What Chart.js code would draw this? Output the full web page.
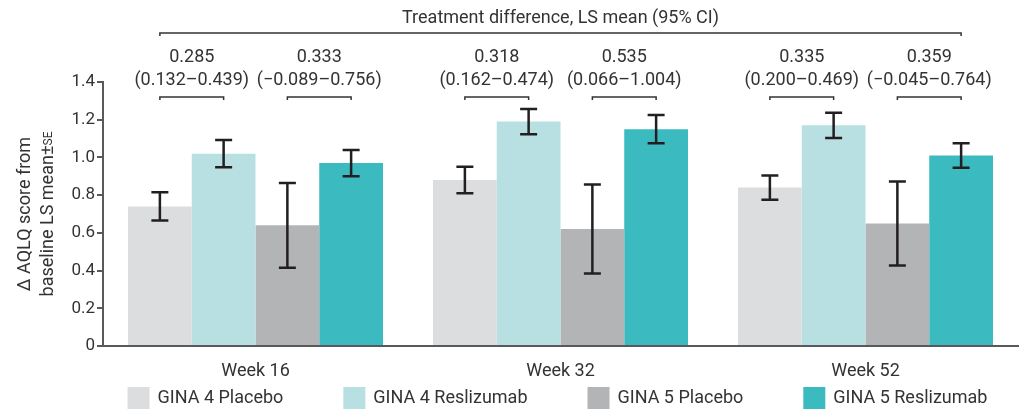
<!DOCTYPE html>
<html>
<head>
<meta charset="utf-8">
<script src="https://cdn.jsdelivr.net/npm/chart.js@4"></script>
<style>
  body { margin: 0; background: #fff; }
  canvas { display: block; }
</style>
</head>
<body>
<canvas id="chart" width="1024" height="410"></canvas>
<script>
const weeks = ["Week 16", "Week 32", "Week 52"];
const seriesNames = ["GINA 4 Placebo", "GINA 4 Reslizumab", "GINA 5 Placebo", "GINA 5 Reslizumab"];
const seriesColors = ["#dcdddf", "#b8dfe1", "#b3b4b6", "#3bbbc0"];

const gina4Placebo = [0.74, 0.88, 0.84];
const gina4Reslizumab = [1.02, 1.19, 1.17];
const gina5Placebo = [0.64, 0.62, 0.65];
const gina5Reslizumab = [0.97, 1.15, 1.01];

const gina4PlaceboSE = [0.075, 0.07, 0.064];
const gina4ReslizumabSE = [0.072, 0.067, 0.067];
const gina5PlaceboSE = [0.225, 0.236, 0.223];
const gina5ReslizumabSE = [0.07, 0.075, 0.065];

const yTicks = [0, 0.2, 0.4, 0.6, 0.8, 1.0, 1.2, 1.4];

// treatment differences, one per (week, GINA group) pair
const diffMeans = ["0.285", "0.333", "0.318", "0.535", "0.335", "0.359"];
const diffCIs = ["(0.132\u20130.439)", "(\u22120.089\u20130.756)", "(0.162\u20130.474)",
                 "(0.066\u20131.004)", "(0.200\u20130.469)", "(\u22120.045\u20130.764)"];

const seriesValues = [gina4Placebo, gina4Reslizumab, gina5Placebo, gina5Reslizumab];
const seriesSE = [gina4PlaceboSE, gina4ReslizumabSE, gina5PlaceboSE, gina5ReslizumabSE];

const FONT = "Roboto, 'DejaVu Sans', sans-serif";
const TEXT = "#333333";

const errorBars = {
    id: "errorBars",
    afterDatasetsDraw(chart) {
        const ctx = chart.ctx;
        const y = chart.scales.y;
        ctx.save();
        ctx.strokeStyle = "#231f20";
        ctx.lineWidth = 2.5;
        seriesValues.forEach((vals, i) => {
            const meta = chart.getDatasetMeta(i);
            vals.forEach((v, j) => {
                const x = meta.data[j].x;
                const top = y.getPixelForValue(v + seriesSE[i][j]);
                const bot = y.getPixelForValue(v - seriesSE[i][j]);
                ctx.beginPath();
                ctx.moveTo(x, top); ctx.lineTo(x, bot);
                ctx.moveTo(x - 8.5, top); ctx.lineTo(x + 8.5, top);
                ctx.moveTo(x - 8.5, bot); ctx.lineTo(x + 8.5, bot);
                ctx.stroke();
            });
        });
        ctx.restore();
    }
};

const annotations = {
    id: "annotations",
    afterDraw(chart) {
        const ctx = chart.ctx;
        const m = [0, 1, 2, 3].map(i => chart.getDatasetMeta(i));
        ctx.save();
        ctx.fillStyle = TEXT;
        ctx.strokeStyle = TEXT;
        ctx.lineWidth = 1.5;
        ctx.font = "18px " + FONT;
        ctx.textAlign = "center";
        ctx.textBaseline = "middle";

        // overall bracket
        const x0 = m[0].data[0].x, x1 = m[3].data[2].x;
        ctx.fillText("Treatment difference, LS mean (95% CI)", (x0 + x1) / 2, 18);
        ctx.beginPath();
        ctx.moveTo(x0, 36); ctx.lineTo(x0, 33); ctx.lineTo(x1, 33); ctx.lineTo(x1, 36);
        ctx.stroke();

        // pair brackets
        let k = 0;
        weeks.forEach((w, j) => {
            [[0, 1], [2, 3]].forEach(([a, b]) => {
                const xa = m[a].data[j].x, xb = m[b].data[j].x;
                const cx = (xa + xb) / 2;
                ctx.fillText(diffMeans[k], cx, 57);
                ctx.fillText(diffCIs[k], cx, 80);
                ctx.beginPath();
                ctx.moveTo(xa, 100); ctx.lineTo(xa, 97); ctx.lineTo(xb, 97); ctx.lineTo(xb, 100);
                ctx.stroke();
                k++;
            });
        });

        // y axis title
        const area = chart.chartArea;
        const midY = (area.top + area.bottom) / 2;
        ctx.save();
        ctx.translate(25, midY);
        ctx.rotate(-Math.PI / 2);
        ctx.font = "18px " + FONT;
        ctx.fillText("\u0394 AQLQ score from", 0, 0);
        ctx.restore();
        ctx.save();
        ctx.translate(48, midY);
        ctx.rotate(-Math.PI / 2);
        ctx.font = "18px " + FONT;
        const main = "baseline LS mean\u00b1";
        const wMain = ctx.measureText(main).width;
        ctx.font = "12px " + FONT;
        const wSub = ctx.measureText("SE").width;
        const start = -(wMain + wSub) / 2;
        ctx.textAlign = "left";
        ctx.font = "18px " + FONT;
        ctx.fillText(main, start, 0);
        ctx.font = "12px " + FONT;
        ctx.fillText("SE", start + wMain, 1);
        ctx.restore();

        // legend
        ctx.font = "18px " + FONT;
        ctx.textAlign = "left";
        const box = 22, gap = 8, spacing = 60;
        const widths = seriesNames.map(n => box + gap + ctx.measureText(n).width);
        const total = widths.reduce((s, w) => s + w, 0) + spacing * (widths.length - 1);
        let lx = (area.left + area.right) / 2 - 3 - total / 2;
        const ly = 398;
        seriesNames.forEach((n, i) => {
            ctx.fillStyle = seriesColors[i];
            ctx.fillRect(lx, ly - 11, box, box);
            ctx.fillStyle = TEXT;
            ctx.fillText(n, lx + box + gap, ly);
            lx += widths[i] + spacing;
        });
        ctx.restore();
    }
};

const ctx = document.getElementById("chart").getContext("2d");
const chart = new Chart(ctx, {
    type: "bar",
    data: {
        labels: weeks,
        datasets: seriesNames.map((name, i) => ({
            label: name,
            data: seriesValues[i],
            backgroundColor: seriesColors[i],
            borderWidth: 0,
            categoryPercentage: 0.836,
            barPercentage: 1.0
        }))
    },
    options: {
        responsive: false,
        animation: false,
        devicePixelRatio: 1,
        layout: { padding: { top: 82, right: 6, bottom: 34, left: 0 } },
        plugins: {
            legend: { display: false },
            tooltip: { enabled: false }
        },
        scales: {
            x: {
                grid: { display: false },
                border: { display: true, color: "#58595b", width: 2 },
                ticks: { color: TEXT, font: { family: FONT, size: 18 }, padding: 7 },
                afterFit: (axis) => { axis.height = 30; }
            },
            y: {
                min: 0,
                max: 1.4,
                afterBuildTicks: (axis) => { axis.ticks = yTicks.map(v => ({ value: v })); },
                grid: { display: true, drawOnChartArea: false, drawTicks: true, tickLength: 6, color: "#58595b", lineWidth: 2 },
                border: { display: true, color: "#58595b", width: 2 },
                ticks: {
                    color: TEXT,
                    font: { family: FONT, size: 17 },
                    padding: 2,
                    callback: (v) => v === 0 ? "0" : v.toFixed(1)
                },
                afterFit: (axis) => { axis.width = 103; }
            }
        }
    },
    plugins: [errorBars, annotations]
});
</script>
</body>
</html>
